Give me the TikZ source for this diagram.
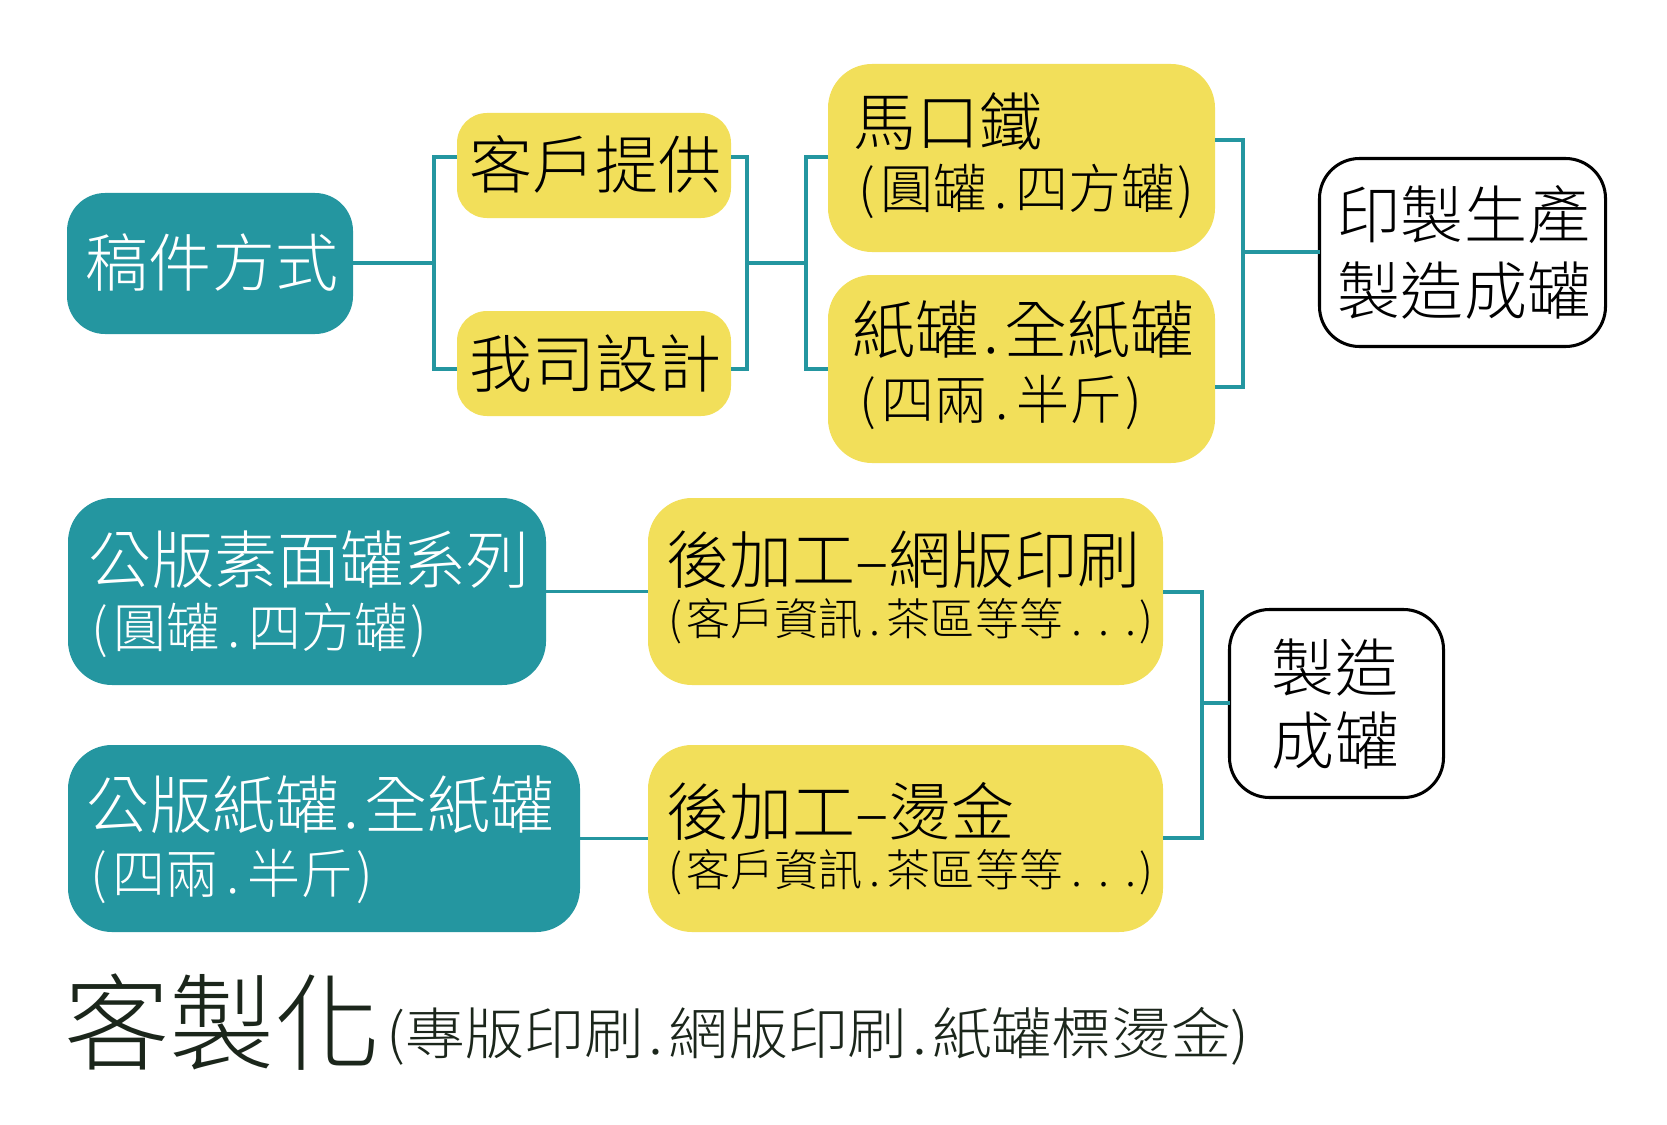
\documentclass[tikz,border=0pt]{standalone}
\usepackage{fontspec}
\usepackage{graphicx}
\setmainfont{Noto Sans CJK TC}[UprightFont={* Light}]
\definecolor{tealc}{RGB}{36,150,160}
\definecolor{yelc}{RGB}{242,223,90}
\definecolor{dkc}{RGB}{27,38,27}
\newcommand\fsBig{\fontsize{53.8pt}{60pt}\selectfont}
\newcommand\fsMid{\fontsize{45.2pt}{50pt}\selectfont}
\newcommand\fsSml{\fontsize{37.6pt}{42pt}\selectfont}
\newcommand\fsHuge{\fontsize{90pt}{94pt}\selectfont}
\newcommand\fsSub{\fontsize{47.8pt}{50pt}\selectfont}
\newcommand\jdot{\kern.08em.\kern.08em}
\newcommand\kdot{\kern.15em.\kern.15em}
\newcommand\lpar{(\kern.1em}
\newcommand\rpar{\kern.06em)}
\begin{document}
\begin{tikzpicture}[x=0.03cm,y=-0.03cm,
  boxbase/.style={rectangle,inner sep=0pt,outer sep=0pt,anchor=north west},
  tealbox/.style={boxbase,fill=tealc},
  yelbox/.style={boxbase,fill=yelc},
  whtbox/.style={boxbase,fill=white,draw=black,line width=2.6pt},
  conn/.style={draw=tealc,line width=2.6pt},
  lbl/.style={inner sep=0pt,anchor=base west},
  ctr/.style={inner sep=0pt,anchor=base}]
\useasboundingbox (0,0) rectangle (1667,1125);
% ---------- boxes ----------
\node[tealbox,minimum width=8.58cm,minimum height=4.23cm,rounded corners=1.14cm] (gj) at (67,193) {};
\node[yelbox,minimum width=8.22cm,minimum height=3.15cm,rounded corners=0.9cm] (kh) at (457,113) {};
\node[yelbox,minimum width=8.22cm,minimum height=3.15cm,rounded corners=0.9cm] (wo) at (457,311) {};
\node[yelbox,minimum width=11.61cm,minimum height=5.64cm,rounded corners=1.32cm] (mk) at (828,64) {};
\node[yelbox,minimum width=11.61cm,minimum height=5.64cm,rounded corners=1.32cm] (zg) at (828,275) {};
\node[whtbox,minimum width=8.58cm,minimum height=5.64cm,rounded corners=1.2cm] (yz) at (1319.5,158.5) {};
\node[tealbox,minimum width=14.34cm,minimum height=5.61cm,rounded corners=1.32cm] (gb1) at (68,498) {};
\node[tealbox,minimum width=15.36cm,minimum height=5.61cm,rounded corners=1.32cm] (gb2) at (68,745) {};
\node[yelbox,minimum width=15.45cm,minimum height=5.61cm,rounded corners=1.32cm] (hj1) at (648,498) {};
\node[yelbox,minimum width=15.45cm,minimum height=5.61cm,rounded corners=1.32cm] (hj2) at (648,745) {};
\node[whtbox,minimum width=6.42cm,minimum height=5.64cm,rounded corners=1.2cm] (zz) at (1229.5,609.5) {};
% ---------- texts ----------
\node[ctr,text=white,font=\fsBig] (t1) at (212,286.6) {稿件方式};
\node[ctr,font=\fsBig] (t2) at (595.5,188.6) {客戶提供};
\node[ctr,font=\fsBig] (t3) at (595.8,387.6) {我司設計};
\node[lbl,font=\fsBig] (t4) at (853,145.6) {馬口鐵};
\node[lbl,font=\fsMid] (t5) at (858,208.3) {\lpar 圓罐\kdot 四方罐\rpar};
\node[lbl,font=\fsBig] (t6) at (852,353.6) {紙罐\jdot 全紙罐};
\node[lbl,font=\fsMid] (t7) at (859,419.3) {\lpar 四兩\kdot 半斤\rpar};
\node[ctr,font=\fsBig] (t8) at (1464,238.6) {印製生產};
\node[ctr,font=\fsBig] (t9) at (1464,314.6) {製造成罐};
\node[lbl,text=white,font=\fsBig] (t10) at (88,583.6) {公版素面罐系列};
\node[lbl,text=white,font=\fsMid] (t11) at (91,647.3) {\lpar 圓罐\kdot 四方罐\rpar};
\node[lbl,text=white,font=\fsBig] (t12) at (86,828.6) {公版紙罐\jdot 全紙罐};
\node[lbl,text=white,font=\fsMid] (t13) at (90,893.3) {\lpar 四兩\kdot 半斤\rpar};
\node[lbl,font=\fsBig] (t14) at (666,583.6) {後加工–網版印刷};
\node[lbl,font=\fsSml] (t15) at (668,635.9) {\lpar 客戶資訊\kdot 茶區等等\kern.2em.\kern.36em.\kern.36em.\rpar};
\node[lbl,font=\fsBig] (t16) at (666,835.6) {後加工–燙金};
\node[lbl,font=\fsSml] (t17) at (668,886.9) {\lpar 客戶資訊\kdot 茶區等等\kern.2em.\kern.36em.\kern.36em.\rpar};
\node[ctr,font=\fsBig] (t18) at (1335,691.6) {製造};
\node[ctr,font=\fsBig] (t19) at (1335,764.6) {成罐};
\node[lbl,text=dkc,font=\fsHuge] (t20) at (64,1062) {客製化};
\node[lbl,text=dkc,font=\fsSub] (t21) at (386,1054) {\scalebox{1.067}[1]{(專版印刷\jdot 網版印刷\jdot 紙罐標燙金)}};
% ---------- connectors ----------
\coordinate (a1) at (434,157); \coordinate (a2) at (434,369); \coordinate (am) at (434,263);
\coordinate (b1) at (747,157); \coordinate (b2) at (747,369); \coordinate (bm) at (747,263);
\coordinate (c1) at (806,157); \coordinate (c2) at (806,369); \coordinate (cm) at (806,263);
\coordinate (d1) at (1243,140); \coordinate (d2) at (1243,387); \coordinate (dm) at (1243,252);
\coordinate (e1) at (1202,592); \coordinate (e2) at (1202,838); \coordinate (em) at (1202,703);
\draw[conn] (gj.east |- am) -- (am);
\draw[conn] (kh.west |- a1) -- (a1) -- (a2) -- (wo.west |- a2);
\draw[conn] (kh.east |- b1) -- (b1) -- (b2) -- (wo.east |- b2);
\draw[conn] (bm) -- (cm);
\draw[conn] (mk.west |- c1) -- (c1) -- (c2) -- (zg.west |- c2);
\draw[conn] (mk.east |- d1) -- (d1) -- (d2) -- (zg.east |- d2);
\draw[conn] (dm) -- (yz.west |- dm);
\draw[conn] (gb1.east |- hj1.west) -- (hj1.west);
\draw[conn] (gb2.east |- hj2.west) -- (hj2.west);
\draw[conn] (hj1.east |- e1) -- (e1) -- (e2) -- (hj2.east |- e2);
\draw[conn] (em) -- (zz.west |- em);
\end{tikzpicture}
\end{document}
